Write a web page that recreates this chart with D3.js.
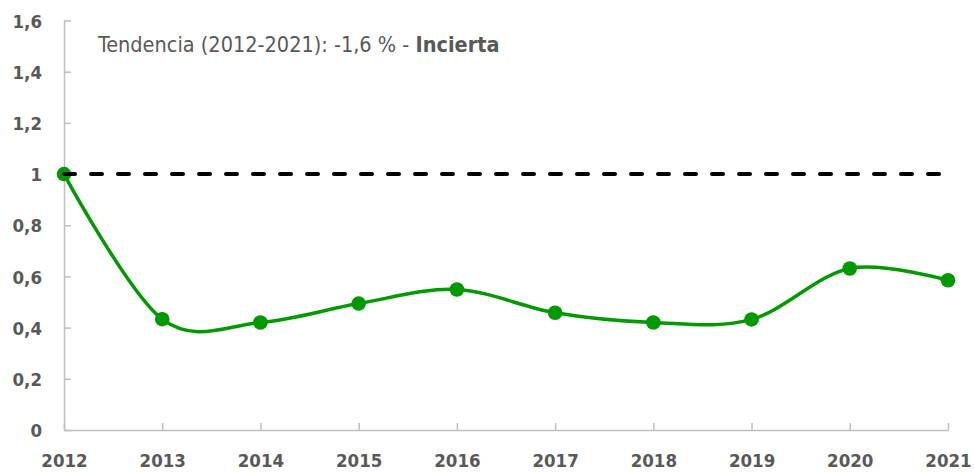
<!DOCTYPE html>
<html>
<head>
<meta charset="utf-8">
<script src="https://cdn.jsdelivr.net/npm/d3@7"></script>
<style>
  body { margin: 0; background: #fff; }
  svg text { font-family: "DejaVu Sans Condensed", "DejaVu Sans", sans-serif; }
</style>
</head>
<body>
<script>
const w = 974;
const h = 473;

// data
const years = ["2012", "2013", "2014", "2015", "2016", "2017", "2018", "2019", "2020", "2021"];
const values = [1, 0.433, 0.42, 0.494, 0.549, 0.458, 0.42, 0.432, 0.631, 0.585];
const reference = [1, 1, 1, 1, 1, 1, 1, 1, 1, 1];
const yTicks = [0, 0.2, 0.4, 0.6, 0.8, 1, 1.2, 1.4, 1.6];
const trendLabel = "Tendencia (2012-2021): -1,6 % - ";
const trendWord = "Incierta";

const gray = "#595959";
const axisGray = "#bfbfbf";
const green = "#009900";

const svg = d3.select("body")
    .append("svg")
    .attr("width", w)
    .attr("height", h);

const x = d3.scalePoint()
    .domain(years)
    .range([64, 948]);

const y = d3.scaleLinear()
    .domain([0, 1.6])
    .range([430, 20.5]);

const fmt = v => String(+v.toFixed(1)).replace(".", ",");

// y axis, ticks pointing inward
const yAxis = svg.append("g")
    .attr("transform", "translate(64,0)")
    .call(d3.axisLeft(y)
        .tickValues(yTicks)
        .tickFormat(fmt)
        .tickSizeInner(-7)
        .tickSizeOuter(0)
        .tickPadding(22));

// x axis
const xAxis = svg.append("g")
    .attr("transform", "translate(0,430)")
    .call(d3.axisBottom(x)
        .tickSizeInner(-7)
        .tickSizeOuter(0)
        .tickPadding(24));

[yAxis, xAxis].forEach(g => {
    g.select(".domain").attr("stroke", axisGray).attr("stroke-width", 1.5);
    g.selectAll(".tick line").attr("stroke", axisGray).attr("stroke-width", 1.5);
    g.selectAll(".tick text")
        .attr("fill", gray)
        .style("font-size", "18.5px")
        .style("font-weight", "bold");
});
yAxis.selectAll(".tick text").attr("dy", "0.36em");

// green series, smoothed like the spreadsheet line
const line = d3.line()
    .x((d, i) => x(years[i]))
    .y(d => y(d))
    .curve(d3.curveCardinal.tension(0));

svg.append("path")
    .datum(values)
    .attr("fill", "none")
    .attr("stroke", green)
    .attr("stroke-width", 3.5)
    .attr("d", line);

svg.selectAll("circle.pt")
    .data(values)
    .enter()
        .append("circle")
        .attr("class", "pt")
        .attr("cx", (d, i) => x(years[i]))
        .attr("cy", d => y(d))
        .attr("r", 7.3)
        .attr("fill", green);

// dashed reference line at 1
svg.append("path")
    .datum(reference)
    .attr("fill", "none")
    .attr("stroke", "#000")
    .attr("stroke-width", 4)
    .attr("stroke-linecap", "round")
    .attr("stroke-dasharray", "11,16")
    .attr("d", d3.line().x((d, i) => x(years[i])).y(d => y(d)));

// trend annotation
const note = svg.append("text")
    .attr("x", 98)
    .attr("y", 52)
    .attr("fill", gray)
    .style("font-size", "21.5px");
note.append("tspan").text(trendLabel);
note.append("tspan").style("font-weight", "bold").text(trendWord);
</script>
</body>
</html>
